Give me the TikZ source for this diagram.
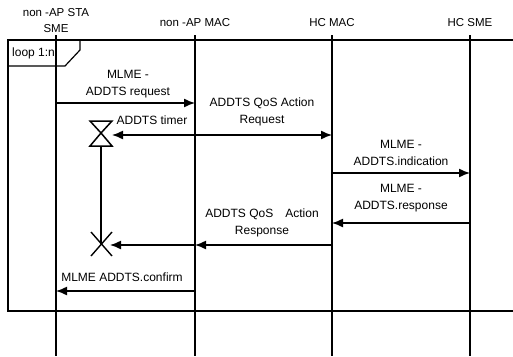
\documentclass[tikz,border=0pt]{standalone}
\usepackage{fontspec}
\setmainfont{Liberation Sans}
\usetikzlibrary{arrows.meta, calc, positioning}
\tikzset{
    lifeline/.style  = {draw = black, line width = 1.2pt},
    frame/.style     = {draw = black, line width = 1.2pt},
    msg/.style       = {draw = black, line width = 1.4pt, -{Latex[length=11pt, width=9pt]}},
    actor/.style     = {font = \fontsize{11.5}{16}\selectfont, align = center, inner sep = 1pt},
    msglabel/.style  = {font = \fontsize{12}{17}\selectfont, align = center, inner sep = 1pt},
    timer/.style     = {draw = black, line width = 1.5pt, fill = white, line join = miter}
}

\begin{document}
\begin{tikzpicture}[x=1pt, y=-1pt]
		\useasboundingbox[fill=white] (0,0) rectangle (513,356);

		% actors and lifelines
		\node[actor] (sta) at (56,21) {non -AP STA\\SME};
		\node[actor] (mac) at (195,23) {non -AP MAC};
		\node[actor] (hcmac) at (332,23) {HC MAC};
		\node[actor] (hcsme) at (470,23) {HC SME};
		\coordinate (staL) at (56,35);
		\coordinate (macL) at (195,35);
		\coordinate (hcmacL) at (332,35);
		\coordinate (hcsmeL) at (470,35);
		\coordinate (bot) at (0,356);
		\foreach \l in {staL, macL, hcmacL, hcsmeL}
			\draw[lifeline] (\l) -- (\l |- bot);

		% loop frame
		\draw[frame] (513,40) -- (8,40) -- (8,311) -- (513,311);
		\draw[frame] (8,66) -- (65,66) -- (80,50) -- (80,40);
		\node[msglabel, anchor=west] (loop) at (11,53) {loop 1:n};

		% message rows
		\coordinate (m1) at (0,103);
		\coordinate (m2) at (0,135);
		\coordinate (m3) at (0,173);
		\coordinate (m4) at (0,223);
		\coordinate (m5) at (0,245);
		\coordinate (m6) at (0,291);

		% timer
		\coordinate (tmr) at (101,133);
		\coordinate (tmrEnd) at (101,244);
		\draw[timer] (90,121) -- (112,121) -- (tmr) -- cycle;
		\draw[timer] (tmr) -- (90,146) -- (112,146) -- cycle;
		\draw[lifeline] (101,146) -- (tmrEnd);
		\draw[line width=1.4pt] ($(tmrEnd)+(-10,-12)$) -- ($(tmrEnd)+(11,12)$);
		\draw[line width=1.4pt] ($(tmrEnd)+(-10,12)$) -- ($(tmrEnd)+(11,-12)$);
		\node[msglabel] (tmrLabel) at (152,120) {ADDTS timer};

		\draw[msg] (staL |- m1) -- (macL |- m1);
		\node[msglabel] (req) at (128,84) {MLME -\\ADDTS request};

		\draw[msg] (macL |- m2) -- (hcmacL |- m2);
		\draw[msg] (macL |- m2) -- (112,135);
		\node[msglabel] (qosReq) at (262,112) {ADDTS QoS Action\\Request};

		\draw[msg] (hcmacL |- m3) -- (hcsmeL |- m3);
		\node[msglabel] (ind) at (401,153) {MLME -\\ADDTS.indication};

		\draw[msg] (hcsmeL |- m4) -- (hcmacL |- m4);
		\node[msglabel] (resp) at (401,198) {MLME -\\ADDTS.response};

		\draw[msg] (hcmacL |- m5) -- (macL |- m5);
		\draw[msg] (macL |- m5) -- (110,245);
		\node[msglabel] (qosResp) at (262,223) {ADDTS QoS\quad Action\\Response};

		\draw[msg] (macL |- m6) -- (staL |- m6);
		\node[msglabel] (conf) at (122,277) {MLME ADDTS.confirm};
	\end{tikzpicture}
\end{document}
